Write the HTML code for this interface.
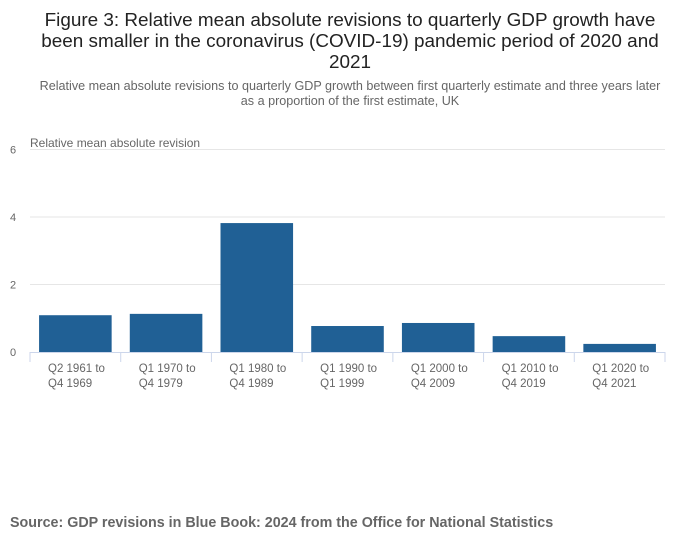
<!DOCTYPE html>
<html><head><meta charset="utf-8"><style>
body{margin:0;width:700px;height:549px;background:#fff;font-family:"Liberation Sans",sans-serif;overflow:hidden}
</style></head><body>
<svg width="700" height="549" xmlns="http://www.w3.org/2000/svg">
<text x="350" y="26" text-anchor="middle" font-size="18.9" fill="#222">Figure 3: Relative mean absolute revisions to quarterly GDP growth have</text>
<text x="350" y="47" text-anchor="middle" font-size="18.9" fill="#222">been smaller in the coronavirus (COVID-19) pandemic period of 2020 and</text>
<text x="350" y="68" text-anchor="middle" font-size="18.9" fill="#222">2021</text>
<text x="350" y="90" text-anchor="middle" font-size="12.6" fill="#666">Relative mean absolute revisions to quarterly GDP growth between first quarterly estimate and three years later</text>
<text x="350" y="105" text-anchor="middle" font-size="12.6" fill="#666">as a proportion of the first estimate, UK</text>
<text x="30" y="147" font-size="12" fill="#666">Relative mean absolute revision</text>
<g id="grid"></g><g id="bars"></g><g id="xaxis"></g>
<text x="10" y="527" font-size="14.3" font-weight="bold" fill="#666">Source: GDP revisions in Blue Book: 2024 from the Office for National Statistics</text>
</svg>
<script>
const categories=[["Q2 1961 to","Q4 1969"],["Q1 1970 to","Q4 1979"],["Q1 1980 to","Q4 1989"],["Q1 1990 to","Q1 1999"],["Q1 2000 to","Q4 2009"],["Q1 2010 to","Q4 2019"],["Q1 2020 to","Q4 2021"]];
const values=[1.09,1.13,3.82,0.77,0.86,0.47,0.24];
const yTicks=[0,2,4,6];
const NS="http://www.w3.org/2000/svg";
const x0=30,x1=665,y0=352,y1=149.5,yMax=6;
const band=(x1-x0)/categories.length;
const y=v=>y0-(v/yMax)*(y0-y1);
const xb=i=>x0+i*band;
function mk(t,a,p){const e=document.createElementNS(NS,t);for(const k in a)e.setAttribute(k,a[k]);p.appendChild(e);return e;}
const g=document.getElementById('grid'),b=document.getElementById('bars'),xa=document.getElementById('xaxis');
yTicks.forEach(v=>{
 if(v>0){const l=mk('line',{x1:x0,x2:x1,y1:y(v),y2:y(v),stroke:'#e6e6e6'},g);
 
 }
 const t=mk('text',{x:10,y:y(v)+4,'text-anchor':'start','font-size':11,fill:'#666'},g);
 t.textContent=v;
 
 
});
const bw=band*0.8;
values.forEach((v,i)=>{
 const r=mk('rect',{x:xb(i)+(band-bw)/2,y:y(v),width:bw,height:y0-y(v),fill:'#206095'},b);
 
 
});
const ax=mk('line',{x1:x0,x2:x1,y1:y0+0.5,y2:y0+0.5,stroke:'#ccd6eb'},xa);


for(let i=0;i<=categories.length;i++){
 const tk=mk('line',{x1:xb(i),x2:xb(i),y1:y0,y2:y0+10,stroke:'#ccd6eb'},xa);
 
 
}
categories.forEach((c,i)=>{
 c.forEach((s,j)=>{
  const t=mk('text',{x:xb(i)+18,y:y0+20+j*15,'text-anchor':'start','font-size':11.5,fill:'#666'},xa);
  t.textContent=s;
  
  
 });
});
</script>
</body></html>
